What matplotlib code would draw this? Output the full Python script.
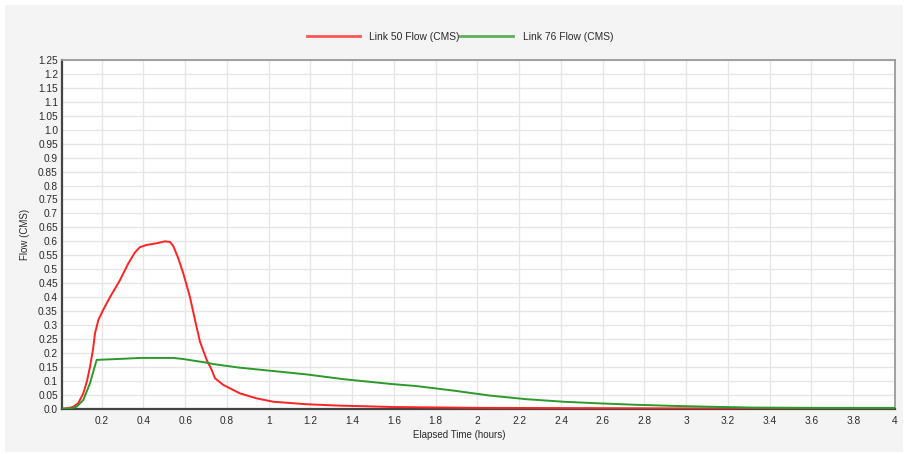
import matplotlib
matplotlib.use("Agg")
import matplotlib.pyplot as plt
from matplotlib.patches import Rectangle

plt.rcParams['font.family'] = ['Liberation Sans', 'DejaVu Sans']

# Data (hours, CMS)
link50_t = [0.01, 0.04, 0.064, 0.088, 0.112, 0.13, 0.144, 0.158, 0.168, 0.184, 0.207, 0.24,
            0.287, 0.327, 0.359, 0.383, 0.415, 0.463, 0.503, 0.527, 0.543, 0.567, 0.591,
            0.623, 0.647, 0.671, 0.703, 0.727, 0.743, 0.783, 0.862, 0.942, 1.022, 1.18,
            1.34, 1.6, 2.0, 2.5, 3.0, 3.5, 4.0]
link50_q = [0.0, 0.002, 0.007, 0.02, 0.055, 0.1, 0.15, 0.21, 0.27, 0.318, 0.354, 0.40,
            0.46, 0.52, 0.56, 0.579, 0.587, 0.593, 0.60, 0.598, 0.583, 0.539, 0.485,
            0.40, 0.318, 0.24, 0.175, 0.139, 0.109, 0.085, 0.055, 0.037, 0.025, 0.016,
            0.011, 0.006, 0.003, 0.002, 0.001, 0.001, 0.001]

link76_t = [0.01, 0.05, 0.08, 0.112, 0.144, 0.176, 0.303, 0.383, 0.543, 0.591, 0.703, 0.734,
            0.862, 1.022, 1.18, 1.357, 1.581, 1.709, 1.884, 2.06, 2.236, 2.411, 2.587,
            2.763, 2.938, 3.114, 3.32, 3.65, 4.0]
link76_q = [0.0, 0.001, 0.007, 0.031, 0.091, 0.175, 0.179, 0.182, 0.182, 0.178, 0.165, 0.16,
            0.147, 0.135, 0.123, 0.106, 0.089, 0.081, 0.065, 0.047, 0.034, 0.025, 0.019,
            0.014, 0.010, 0.007, 0.004, 0.003, 0.003]

series_names = ["Link 50 Flow (CMS)", "Link 76 Flow (CMS)"]
x_ticks = [0.2 * i for i in range(1, 21)]
x_tick_labels = ["0.2", "0.4", "0.6", "0.8", "1", "1.2", "1.4", "1.6", "1.8", "2",
                 "2.2", "2.4", "2.6", "2.8", "3", "3.2", "3.4", "3.6", "3.8", "4"]
y_ticks = [0.05 * i for i in range(0, 26)]
y_tick_labels = ["0.0", "0.05", "0.1", "0.15", "0.2", "0.25", "0.3", "0.35", "0.4", "0.45",
                 "0.5", "0.55", "0.6", "0.65", "0.7", "0.75", "0.8", "0.85", "0.9", "0.95",
                 "1.0", "1.05", "1.1", "1.15", "1.2", "1.25"]

W, H = 907, 454
fig = plt.figure(figsize=(W / 100, H / 100), dpi=100)
fig.patch.set_facecolor('white')
fig.patches.append(Rectangle((5 / W, 2 / H), 898 / W, 447 / H, transform=fig.transFigure,
                             facecolor='#f4f4f4', edgecolor='none', zorder=-10))

ax = fig.add_axes([62 / W, 1 - 408.7 / H, (895 - 62) / W, (408.7 - 60) / H])
ax.set_facecolor('white')

ax.plot(link50_t, link50_q, color='#ff2222', lw=1.4, label=series_names[0], zorder=3)
ax.plot(link76_t, link76_q, color='#2b9a2b', lw=1.4, label=series_names[1], zorder=3)

ax.set_xlim(0.01, 4.0)
ax.set_ylim(0, 1.25)
ax.set_xticks(x_ticks)
ax.set_xticklabels(x_tick_labels)
ax.set_yticks(y_ticks)
ax.set_yticklabels(y_tick_labels)
ax.tick_params(axis='both', length=0, labelsize=7.3, colors='#2a2a2a')
ax.tick_params(axis='x', pad=5.5)
ax.tick_params(axis='y', pad=3)
ax.grid(True, color='#e6e6e6', lw=1.0, zorder=0)
ax.set_axisbelow(True)

for s in ['left', 'bottom']:
    ax.spines[s].set_color('#444444')
    ax.spines[s].set_linewidth(1.6)
for s in ['top', 'right']:
    ax.spines[s].set_color('#9a9a9a')
    ax.spines[s].set_linewidth(1.3)

ax.set_xlabel("Elapsed Time (hours)", fontsize=7.0, color='#2a2a2a')
ax.xaxis.set_label_coords((459 - 62) / (895 - 62), -(430 - 408.7) / (408.7 - 60))
ax.set_ylabel("Flow (CMS)", fontsize=7.0, color='#2a2a2a')
ax.yaxis.set_label_coords(-(62 - 30) / (895 - 62), 0.5)

leg = fig.legend(loc='center', bbox_to_anchor=(460 / W, 1 - 37 / H), ncol=2, frameon=False,
                 fontsize=7.4, handlelength=5.2, handletextpad=0.9, columnspacing=0.0,
                 labelcolor='#2a2a2a')
for ln in leg.get_lines():
    ln.set_linewidth(2.0)
    ln.set_alpha(0.75)

fig.savefig("out.png", dpi=100)
